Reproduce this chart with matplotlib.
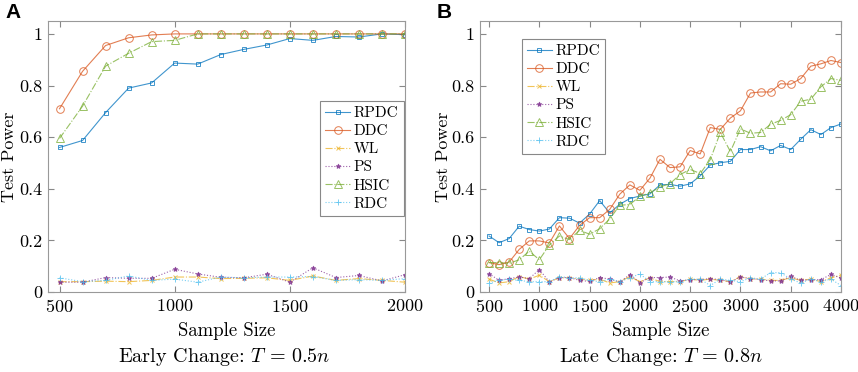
import matplotlib
matplotlib.use("Agg")
import matplotlib.pyplot as plt

plt.rcParams['font.family'] = 'cmr10'
plt.rcParams['mathtext.fontset'] = 'cm'
plt.rcParams['axes.formatter.use_mathtext'] = True

# Early change (T = 0.5n)
xA = list(range(500, 2001, 100))
rpdcA = [0.56, 0.587, 0.695, 0.79, 0.81, 0.887, 0.883, 0.92, 0.94, 0.957, 0.982, 0.975, 0.99, 0.988, 1.0, 0.997]
ddcA = [0.71, 0.855, 0.955, 0.985, 0.996, 1.0, 1.0, 1.0, 1.0, 1.0, 1.0, 1.0, 1.0, 1.0, 1.0, 1.0]
wlA = [0.04, 0.04, 0.042, 0.04, 0.045, 0.058, 0.058, 0.052, 0.053, 0.055, 0.045, 0.062, 0.045, 0.052, 0.045, 0.038]
psA = [0.038, 0.038, 0.056, 0.053, 0.053, 0.088, 0.07, 0.057, 0.055, 0.069, 0.038, 0.094, 0.056, 0.064, 0.043, 0.067]
hsicA = [0.595, 0.72, 0.875, 0.925, 0.97, 0.975, 1.0, 1.0, 1.0, 1.0, 1.0, 1.0, 1.0, 1.0, 1.0, 1.0]
rdcA = [0.055, 0.04, 0.045, 0.062, 0.045, 0.05, 0.038, 0.058, 0.055, 0.058, 0.058, 0.06, 0.045, 0.048, 0.045, 0.052]

# Late change (T = 0.8n)
xB = list(range(500, 4001, 100))
rpdcB = [0.217, 0.191, 0.207, 0.255, 0.242, 0.236, 0.244, 0.288, 0.286, 0.267, 0.302, 0.354,
         0.306, 0.340, 0.362, 0.372, 0.380, 0.415, 0.417, 0.410, 0.419, 0.450, 0.492, 0.501,
         0.506, 0.552, 0.552, 0.563, 0.547, 0.568, 0.552, 0.592, 0.629, 0.610, 0.637, 0.651]
ddcB = [0.114, 0.106, 0.116, 0.165, 0.198, 0.198, 0.19, 0.256, 0.207, 0.258, 0.288, 0.288,
        0.320, 0.379, 0.415, 0.394, 0.441, 0.514, 0.482, 0.485, 0.548, 0.535, 0.637, 0.630,
        0.674, 0.702, 0.771, 0.775, 0.775, 0.807, 0.805, 0.827, 0.875, 0.884, 0.897, 0.889]
wlB = [0.05, 0.035, 0.04, 0.06, 0.05, 0.065, 0.04, 0.055, 0.055, 0.05, 0.045, 0.05,
       0.035, 0.04, 0.06, 0.04, 0.055, 0.04, 0.04, 0.04, 0.05, 0.045, 0.05, 0.045,
       0.04, 0.06, 0.05, 0.05, 0.045, 0.045, 0.055, 0.045, 0.05, 0.04, 0.055, 0.065]
psB = [0.071, 0.045, 0.052, 0.058, 0.052, 0.087, 0.039, 0.056, 0.056, 0.045, 0.041, 0.056,
       0.05, 0.039, 0.067, 0.036, 0.056, 0.056, 0.058, 0.043, 0.048, 0.048, 0.052, 0.048,
       0.039, 0.058, 0.052, 0.048, 0.043, 0.043, 0.061, 0.045, 0.048, 0.048, 0.068, 0.054]
hsicB = [0.114, 0.114, 0.111, 0.125, 0.158, 0.125, 0.182, 0.217, 0.203, 0.239, 0.224, 0.245,
         0.283, 0.336, 0.339, 0.371, 0.384, 0.407, 0.420, 0.455, 0.475, 0.459, 0.513, 0.618,
         0.544, 0.632, 0.615, 0.618, 0.65, 0.665, 0.687, 0.739, 0.747, 0.795, 0.827, 0.820]
rdcB = [0.035, 0.045, 0.05, 0.045, 0.04, 0.04, 0.04, 0.06, 0.055, 0.055, 0.045, 0.04,
        0.05, 0.04, 0.055, 0.07, 0.04, 0.04, 0.04, 0.04, 0.05, 0.05, 0.025, 0.05,
        0.045, 0.04, 0.055, 0.05, 0.075, 0.075, 0.05, 0.035, 0.05, 0.04, 0.05, 0.025]

names = ["RPDC", "DDC", "WL", "PS", "HSIC", "RDC"]
colors = ["#0072BD", "#D95319", "#EDB120", "#7E2F8E", "#77AC30", "#4DBEEE"]
styles = ["-", "-", "-.", ":", "-.", ":"]
markers = ["s", "o", "x", "*", "^", "+"]
msizes = [3.5, 5.5, 3.5, 3.5, 5.5, 4.5]


def draw(ax, x, series, xlim, xticks, legend_anchor, ylabel_x):
    for i in range(len(series)):
        ax.plot(x, series[i], color=colors[i], linestyle=styles[i], marker=markers[i],
                markersize=msizes[i], markerfacecolor='none' if markers[i] in "so^" else colors[i],
                linewidth=0.8, markeredgewidth=0.7, alpha=0.75, label=names[i])
    ax.set_xlim(xlim)
    ax.set_ylim(0, 1.05)
    ax.set_xticks(xticks)
    ax.set_yticks([0, 0.2, 0.4, 0.6, 0.8, 1])
    ax.set_yticklabels(["0", "0.2", "0.4", "0.6", "0.8", "1"])
    ax.tick_params(direction='in', top=True, right=True, labelsize=13, length=4,
                   color='#888888', pad=4)
    for s in ax.spines.values():
        s.set_color('#999999')
        s.set_linewidth(0.8)
    ax.set_xlabel("Sample Size", fontsize=13.5, labelpad=5)
    ax.set_ylabel("Test Power", fontsize=13)
    ax.yaxis.set_label_coords(ylabel_x, 0.5)
    leg = ax.legend(loc='upper left', bbox_to_anchor=legend_anchor, fontsize=11,
                    handlelength=1.6, handletextpad=0.25, labelspacing=0.29, borderpad=0.35,
                    borderaxespad=0, fancybox=False, framealpha=1, edgecolor='#888888')
    leg.get_frame().set_linewidth(0.8)


fig = plt.figure(figsize=(8.58, 3.72), dpi=100)
axA = fig.add_axes([48 / 858, 80 / 372, 357 / 858, 271 / 372])
axB = fig.add_axes([480 / 858, 80 / 372, 361 / 858, 271 / 372])

draw(axA, xA, [rpdcA, ddcA, wlA, psA, hsicA, rdcA], (450, 2000), [500, 1000, 1500, 2000],
     (0.762, 0.705), -0.088)
draw(axB, xB, [rpdcB, ddcB, wlB, psB, hsicB, rdcB], (410, 4000), list(range(500, 4001, 500)),
     (0.116, 0.934), -0.08)

fig.text(224 / 858, 1 - 357 / 372, r"Early Change: $T\,=\,0.5n$", ha='center', va='center', fontsize=14.5)
fig.text(661 / 858, 1 - 357 / 372, r"Late Change: $T\,=\,0.8n$", ha='center', va='center', fontsize=14.5)

fig.text(5 / 858, 1 - 12 / 372, "A", fontsize=15, fontweight='bold', family='Liberation Sans', va='center')
fig.text(437 / 858, 1 - 12 / 372, "B", fontsize=15, fontweight='bold', family='Liberation Sans', va='center')

fig.savefig("out.png", dpi=100)
